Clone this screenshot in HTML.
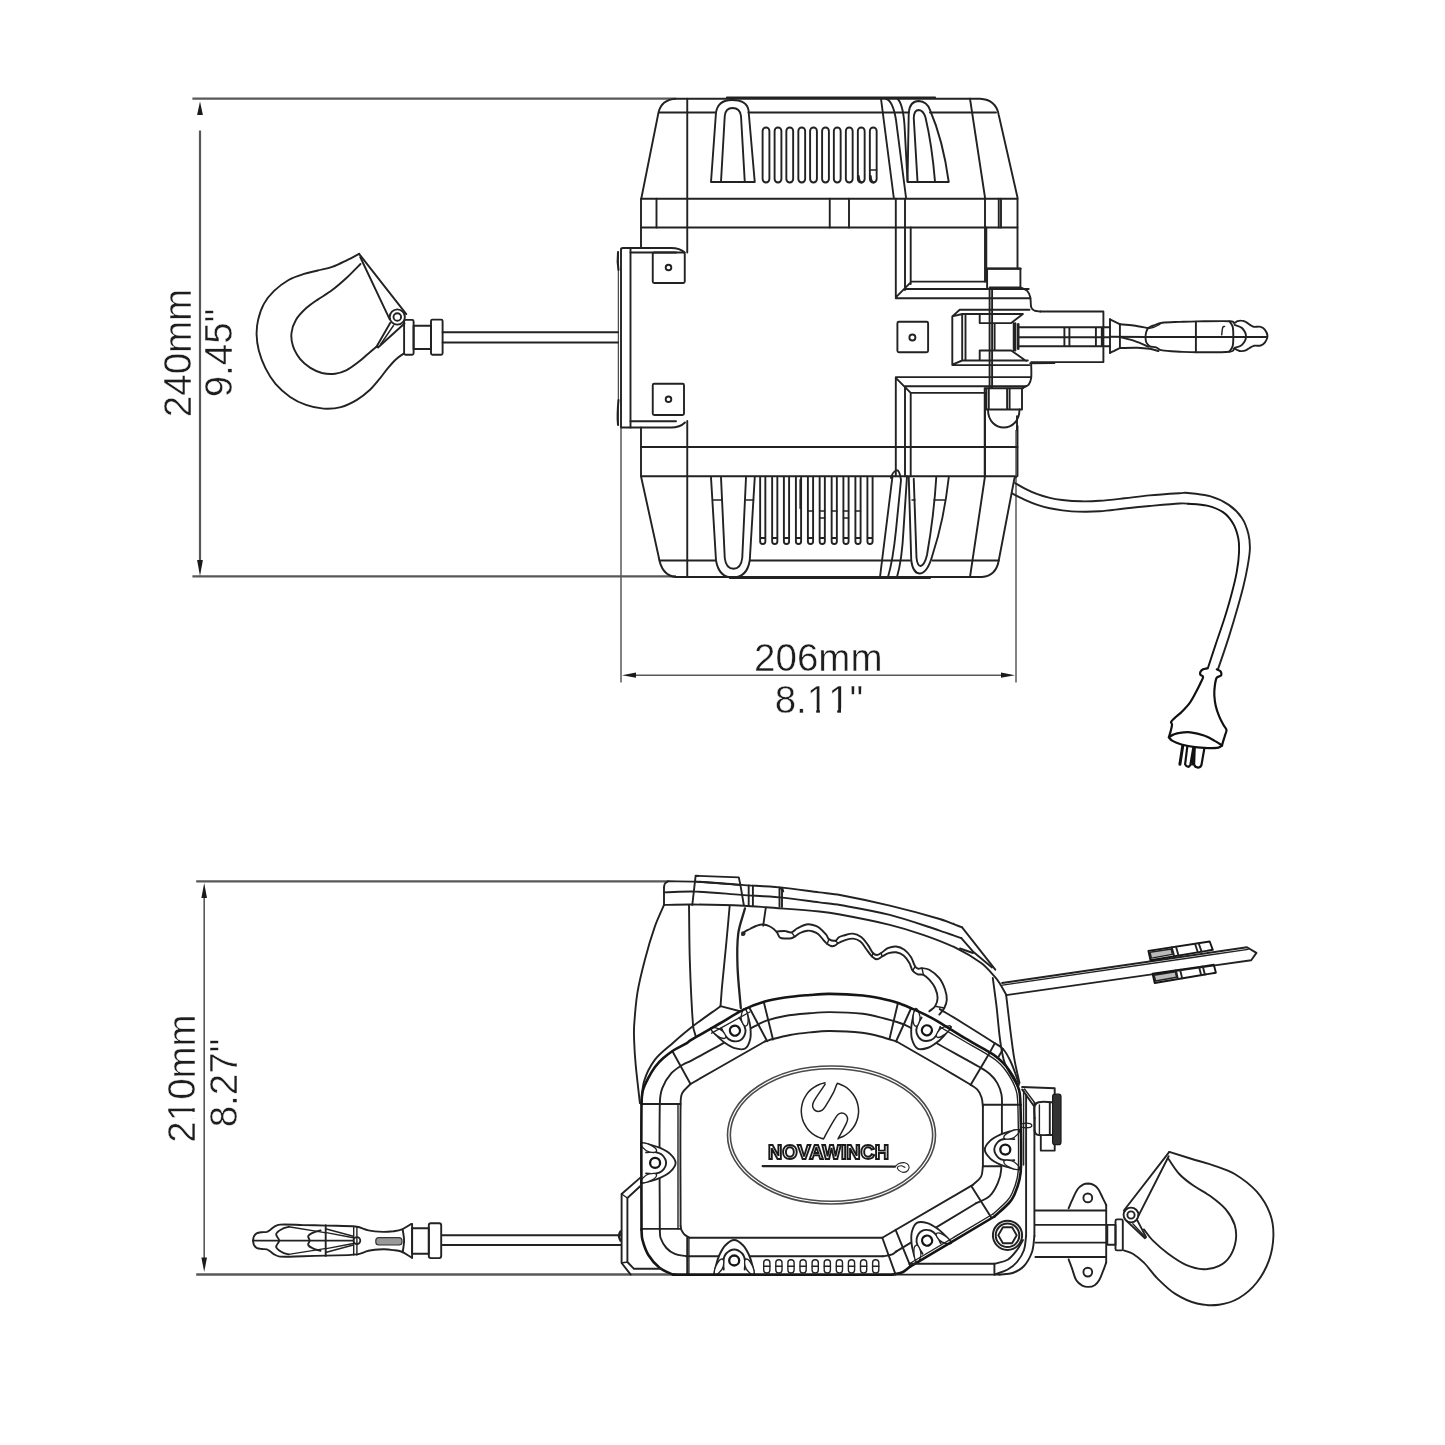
<!DOCTYPE html>
<html><head><meta charset="utf-8"><title>Winch dimensions</title>
<style>
html,body{margin:0;padding:0;background:#fff;}
body{width:1445px;height:1445px;overflow:hidden;font-family:"Liberation Sans",sans-serif;}
svg{display:block;position:absolute;left:0;top:0;}
.l{fill:none;stroke:#222;stroke-width:1.9;stroke-linecap:round;stroke-linejoin:round;}
.t{fill:none;stroke:#222;stroke-width:1.4;stroke-linecap:round;stroke-linejoin:round;}
.d{fill:none;stroke:#585858;stroke-width:2.2;}
.w{fill:#fff;stroke:#222;stroke-width:1.6;stroke-linejoin:round;}
text{font-family:"Liberation Sans",sans-serif;fill:#1c1c1c;}
#labels text{stroke:#fff;stroke-width:0.45;font-kerning:none;}
</style></head><body>
<svg width="1445" height="1445" viewBox="0 0 1445 1445">
<rect width="1445" height="1445" fill="#fff"/>
<!-- ===== DIMENSIONS ===== -->
<g id="dims" class="d">
<path d="M192.4 98.7H676"/>
<path d="M192.4 576.3H676"/>
<path d="M200 130.5V562"/>
<path d="M621 428V682.5" style="stroke-width:1.5"/>
<path d="M1016 430V682.5" style="stroke-width:1.5"/>
<path d="M630 675.2H1008" style="stroke-width:1.6"/>
<path d="M196.2 881.3H668"/>
<path d="M204.2 896V1260" style="stroke-width:1.6"/>
<path d="M196.2 1274.5H676" style="stroke-width:2.3"/>
</g>
<g id="arrows" fill="#1a1a1a" stroke="none">
<path d="M200 101.5L202.9 115H197.1Z"/>
<path d="M200 576L202.9 560H197.1Z"/>
<path d="M622 675.2L636 672.6V677.8Z"/>
<path d="M1015 675.2L1001 672.6V677.8Z"/>
<path d="M204.2 883L207 898H201.4Z"/>
<path d="M204.2 1272L207 1257.5H201.4Z"/>
</g>
<g id="labels" opacity="0.995">
<text x="818.3" y="670.5" font-size="38.5" text-anchor="middle">206mm</text>
<text x="819" y="712.5" font-size="38.5" text-anchor="middle">8.11"</text>
<text transform="translate(190.5 353) rotate(-90)" font-size="38.5" text-anchor="middle">240mm</text>
<text transform="translate(232 353) rotate(-90)" font-size="38.5" text-anchor="middle">9.45"</text>
<text transform="translate(195.4 1078.5) rotate(-90)" font-size="38.5" text-anchor="middle">210mm</text>
<text transform="translate(237.2 1083) rotate(-90)" font-size="38.5" text-anchor="middle">8.27"</text>
</g>
<g id="fix1" fill="#fff" stroke="none">
<rect x="808.5" y="708.6" width="7.7" height="5"/><rect x="819.9" y="708.6" width="7" height="5"/>
<rect x="830.5" y="708.6" width="6.7" height="5"/><rect x="841" y="708.6" width="7" height="5"/>
<rect x="190.6" y="1100.5" width="5.2" height="7.8"/><rect x="190.6" y="1111.8" width="5.2" height="6.5"/>
</g>
<!-- ===== TOP VIEW ===== -->
<g id="topview">
<!-- body outline -->
<g class="l">
<path d="M641 247.5V200L658.5 112.5Q661.5 99.5 676 98.75H980Q996 99.5 998.75 115L1017.5 197.5V268.5"/>
<path d="M641 427.5V476.25L658.5 556Q661.5 576 676 577H982Q996 576 998.75 560.5L1014.5 478L1017.5 476V426"/>
<path d="M641 198.75H1017.5M641 227.5H1017.5M641 447H1017.5M641 476.25H1015"/>
<path d="M687.25 98.75V252.5M687.25 421V577"/>
<path d="M656.5 198.75V227.5M829.75 198.75V227.5M849 198.75V227.5M998.75 198.75V227.5M1001 198.75V227.5"/>
<path d="M659 112.5H716M748.5 112.5H909M930 112.5H996"/>
<path d="M660.5 560.5H716M750 560.5H910M932.5 560.5H998.75"/>
<!-- inner right slanted -->
<path d="M970 98.75L985 197.5V281.6"/>
<path d="M985 392.9V476.25L970 577"/>
<!-- thick handle top -->
<path d="M727 97.6H935" stroke-width="2.2"/>
<path d="M730 578H930" stroke-width="2"/>
</g>
<!-- handles top -->
<g class="l">
<path d="M711 182L716 112.5Q718 100 732 100Q746.5 100 748.5 110L754.75 182Z"/>
<path d="M721 181.5L724.75 116Q725.5 108 732.5 108Q740 108 741 116L744.75 181.5"/>
<path d="M907.5 182L908.75 112.5Q910 101 918.75 101Q927 101.5 930 110Q943 140 948.75 182Z"/>
<path d="M917.5 181.5L913.75 118Q914 110 918.75 110Q923.5 110.5 925.5 117.5Q932 145 935 181.5"/>
<!-- seam lines top -->
<path d="M881 98.75L893.75 197.5"/>
<path d="M886 98.75Q893 101 896 120L906 197.5"/>
<path d="M897.5 98.75Q903 104 904.5 125L907.5 181"/>
<!-- bottom handles -->
<path d="M711 477.5L716 560.5Q719 577.5 732.5 577.5Q747 577.5 749.75 560.5L754.75 477.5"/>
<path d="M721 477.5L724.75 558Q726 568.75 733.5 568.75Q741 568.75 742.25 558L746 477.5"/>
<path d="M908.75 477.5L911.25 560.5Q913 573.5 920 573.5Q927.5 573 932.5 555Q944 520 948.75 477.5"/>
<path d="M913.75 478.75L916.5 558Q917.5 566 920.5 566Q924.5 565.5 927 555Q934 515 936.25 477.5"/>
<!-- seam bottom -->
<path d="M880 577L892.5 476.25"/>
<path d="M888 577Q893 560 896 530L901 480Q899.5 469 896 470.5Q892.5 472 891 478"/>
<path d="M897 577Q902 560 903.5 530L907 476.25"/>
</g>
<!-- vents -->
<g class="l" stroke-width="1.3">
<rect x="762.60" y="127.5" width="6.8" height="55" rx="3.4"/>
<rect x="774.60" y="127.5" width="6.8" height="55" rx="3.4"/>
<rect x="786.35" y="127.5" width="6.8" height="55" rx="3.4"/>
<rect x="798.35" y="127.5" width="6.8" height="55" rx="3.4"/>
<rect x="810.10" y="127.5" width="6.8" height="55" rx="3.4"/>
<rect x="822.10" y="127.5" width="6.8" height="55" rx="3.4"/>
<rect x="833.85" y="127.5" width="6.8" height="55" rx="3.4"/>
<rect x="845.85" y="127.5" width="6.8" height="55" rx="3.4"/>
<rect x="857.85" y="127.5" width="6.8" height="55" rx="3.4"/>
<rect x="869.85" y="127.5" width="6.8" height="55" rx="3.4"/>
<path d="M760.15 477.5V541.5Q760.15 544 762.75 544Q765.35 544 765.35 541.5V477.5M760.15 538H765.35"/>
<path d="M772.15 477.5V541.5Q772.15 544 774.75 544Q777.35 544 777.35 541.5V477.5M772.15 538H777.35"/>
<path d="M783.90 477.5V541.5Q783.90 544 786.50 544Q789.10 544 789.10 541.5V477.5M783.90 538H789.10"/>
<path d="M795.90 477.5V541.5Q795.90 544 798.50 544Q801.10 544 801.10 541.5V477.5M795.90 538H801.10"/>
<path d="M807.90 477.5V541.5Q807.90 544 810.50 544Q813.10 544 813.10 541.5V477.5M807.90 538H813.10"/>
<path d="M819.65 477.5V541.5Q819.65 544 822.25 544Q824.85 544 824.85 541.5V477.5M819.65 538H824.85"/>
<path d="M831.65 477.5V541.5Q831.65 544 834.25 544Q836.85 544 836.85 541.5V477.5M831.65 538H836.85"/>
<path d="M843.40 477.5V541.5Q843.40 544 846.00 544Q848.60 544 848.60 541.5V477.5M843.40 538H848.60"/>
<path d="M855.40 477.5V541.5Q855.40 544 858.00 544Q860.60 544 860.60 541.5V477.5M855.40 538H860.60"/>
<path d="M867.40 477.5V541.5Q867.40 544 870.00 544Q872.60 544 872.60 541.5V477.5M867.40 538H872.60"/>
</g>
<!-- XLINES -->
<path class="t" d="M807.90 511H813.10"/>
<path class="t" d="M819.65 511H824.85"/>
<path class="t" d="M831.65 511H836.85"/>
<path class="t" d="M843.40 511H848.60"/>
<path class="t" d="M855.40 511H860.60"/>
<path class="t" d="M819.65 518H824.85"/>
<path class="t" d="M843.40 518H848.60"/>
<path class="l" style="stroke-width:2.4" d="M800.6 480V508"/>
<path class="t" d="M713.3 500H721.8M746 500H753.6M912 500H915M934 500H945"/>
<path class="l" style="stroke-width:2.2" d="M858.6 176Q859 182 861.5 182.3M870.6 176Q871 182 873.5 182.3"/>
<path class="t" d="M869.9 170H876.6"/>
<!-- bracket -->
<g class="l">
<path d="M621 249.5Q621 248 623 248H671Q680 248 684.75 252.5"/>
<path d="M630.5 252.5H676"/>
<path d="M621 427.5H671Q680 427.5 685 422.5"/>
<path d="M630.5 421.25H676"/>
<path d="M621 249.5V427M630.5 248V427.5"/>
<path d="M618 252Q617 262 618.5 270" stroke-width="2"/>
<path d="M618.5 400Q617 415 618 425" stroke-width="2"/>
<path d="M618.3 252V425" stroke-width="1"/>
<rect x="652.75" y="252.5" width="32" height="30.5" rx="1.5"/>
<rect x="652.75" y="383.75" width="31.25" height="31.25" rx="1.5"/>
<circle cx="668.5" cy="267.5" r="2.8"/>
<circle cx="668.5" cy="399.25" r="2.8"/>
<!-- cable to hook -->
<path d="M442.6 332.3H618M442.6 342.5H618"/>
</g>
<!-- hook -->
<g class="l">
<path d="M359.1 253.8C357.0 254.9 351.2 258.2 346.7 260.3C342.2 262.5 337.0 265.2 332.2 266.9C327.4 268.6 322.5 269.3 317.7 270.5C312.8 271.7 308.0 272.6 303.1 274.2C298.3 275.7 293.4 277.2 288.6 280.0C283.8 282.8 278.2 286.9 274.1 290.9C269.9 294.9 266.6 299.1 263.9 303.9C261.2 308.8 259.3 314.8 258.1 319.9C256.9 325.0 256.5 329.4 256.6 334.5C256.7 339.5 257.4 344.9 258.8 350.4C260.3 356.0 262.6 362.3 265.3 367.9C268.1 373.5 271.4 379.0 275.5 383.9C279.6 388.7 285.0 393.4 290.1 397.0C295.1 400.5 300.5 403.0 306.0 404.9C311.6 406.9 317.7 408.2 323.5 408.6C329.3 408.9 335.3 408.6 340.9 407.1C346.5 405.7 352.1 402.8 356.9 399.9C361.7 397.0 366.1 393.3 370.0 389.7C373.9 386.1 377.1 381.7 380.2 378.1C383.2 374.4 385.5 371.0 388.1 367.9C390.8 364.7 393.5 361.6 396.1 359.2C398.8 356.7 402.8 354.3 404.1 353.4"/>
<path d="M360.5 264.0C358.2 266.3 351.5 273.4 346.7 277.8C342.0 282.1 337.0 286.5 332.2 290.1C327.4 293.8 322.0 296.6 317.7 299.6C313.3 302.6 309.7 304.9 306.0 308.3C302.4 311.7 298.3 315.8 295.9 319.9C293.4 324.0 292.0 328.6 291.5 333.0C291.0 337.4 291.5 341.7 293.0 346.1C294.4 350.4 297.3 355.5 300.2 359.2C303.1 362.8 306.8 365.6 310.4 367.9C314.0 370.2 317.9 372.0 322.0 373.0C326.1 373.9 331.0 374.2 335.1 373.7C339.2 373.2 342.9 372.0 346.7 370.1C350.6 368.1 354.7 364.9 358.4 362.1C362.0 359.3 365.5 355.9 368.5 353.4C371.6 350.8 375.2 347.9 376.5 346.8"/>
<path d="M359.1 253.8L406.3 314.1"/>
<path d="M360.2 257L389.6 319.2"/>
<circle cx="397.3" cy="317" r="7.6"/>
<circle cx="397.3" cy="317" r="3.8"/>
<path d="M390.3 322.8L376.5 346.8L378 347.5L404.5 323.5"/>
<path d="M393.5 325.5L380.5 344.5" class="t"/>
<rect x="404.1" y="319.9" width="9.5" height="34.9" rx="1.5"/>
<rect x="413.6" y="325.7" width="17.4" height="23.3"/>
<rect x="431" y="319.6" width="11.6" height="35.2" rx="1.5"/>
</g>

<path class="l" d="M1015.0 483.0C1016.6 483.9 1021.2 486.7 1024.9 488.6C1028.6 490.5 1033.2 492.6 1037.4 494.2C1041.6 495.8 1045.7 496.9 1049.8 497.9C1053.9 498.9 1057.1 499.4 1062.3 500.0C1067.5 500.6 1074.8 501.2 1081.0 501.3C1087.2 501.4 1092.4 501.3 1099.7 500.8C1107.0 500.3 1116.3 499.2 1124.6 498.3C1132.9 497.4 1140.4 496.2 1149.5 495.4C1158.6 494.6 1173.0 493.7 1179.4 493.3C1185.8 492.9 1183.0 492.5 1188.1 493.0C1193.2 493.5 1203.1 494.2 1209.9 496.2C1216.7 498.2 1223.5 501.3 1228.8 504.9C1234.1 508.5 1238.6 513.2 1241.9 518.0C1245.2 522.8 1247.1 528.8 1248.4 533.9C1249.7 539.0 1250.0 543.2 1249.9 548.5C1249.8 553.8 1248.8 559.6 1247.7 565.9C1246.6 572.2 1245.1 579.3 1243.4 586.3C1241.7 593.3 1239.9 599.6 1237.5 608.1C1235.1 616.6 1232.0 627.0 1228.8 637.1C1225.6 647.2 1220.0 663.4 1218.2 668.6"/>
<path class="l" d="M1012.5 493.6C1014.6 494.6 1020.8 497.9 1024.9 499.8C1029.1 501.7 1033.2 503.4 1037.4 504.8C1041.6 506.2 1045.7 507.4 1049.8 508.3C1053.9 509.2 1057.7 509.8 1062.3 510.4C1066.9 510.9 1071.0 511.5 1077.2 511.6C1083.4 511.8 1091.8 511.8 1099.7 511.3C1107.6 510.8 1116.3 509.4 1124.6 508.5C1132.9 507.6 1140.4 506.8 1149.5 506.0C1158.6 505.2 1173.0 503.9 1179.4 503.5C1185.8 503.1 1186.6 503.7 1188.1 503.7"/>
<path class="l" style="stroke:#151515;stroke-width:1.9" d="M1188.1 503.7C1191.2 504.0 1201.2 504.2 1207.0 505.6C1212.8 507.0 1218.6 509.1 1223.0 512.1C1227.4 515.1 1230.7 519.4 1233.2 523.8C1235.8 528.2 1237.3 533.5 1238.3 538.3C1239.3 543.1 1239.2 547.2 1239.0 552.8C1238.8 558.4 1238.0 564.9 1236.8 571.7C1235.6 578.5 1233.8 585.8 1231.7 593.5C1229.7 601.2 1227.2 609.7 1224.5 618.2C1221.8 626.7 1218.5 636.0 1215.7 644.4C1212.9 652.8 1209.1 664.4 1207.8 668.4"/>
<g fill="none" stroke="#111" stroke-width="2.2" stroke-linecap="round" stroke-linejoin="round">
<path d="M1206.9 668.4C1206.2 668.6 1204.1 668.8 1203.1 669.3C1202.0 669.9 1201.0 670.7 1200.6 671.6C1200.1 672.5 1200.0 673.8 1200.4 674.7C1200.8 675.6 1203.1 675.6 1203.1 677.0C1203.1 678.4 1201.6 680.7 1200.4 683.3C1199.2 685.8 1197.7 689.0 1195.9 692.3C1194.1 695.6 1192.0 699.8 1189.6 703.1C1187.2 706.4 1184.0 709.5 1181.5 712.1C1178.9 714.6 1176.0 716.7 1174.3 718.4C1172.6 720.0 1171.5 720.9 1171.1 722.0C1170.8 723.0 1172.1 723.2 1172.0 724.7C1172.0 726.2 1171.2 728.9 1170.7 731.0C1170.2 733.1 1169.2 736.2 1168.9 737.3"/>
<path d="M1216.8 669.3C1217.3 669.6 1219.0 670.1 1219.7 670.7C1220.5 671.3 1221.1 672.1 1221.3 672.9C1221.4 673.8 1221.7 674.8 1220.9 675.6C1220.1 676.5 1217.6 676.2 1216.6 677.9C1215.6 679.6 1215.2 683.1 1214.8 686.0C1214.4 688.8 1214.2 691.7 1214.3 695.0C1214.5 698.3 1214.9 702.2 1215.7 705.8C1216.5 709.4 1217.9 713.3 1219.3 716.6C1220.6 719.9 1222.6 723.3 1223.8 725.6C1225.0 727.8 1226.3 728.3 1226.5 730.1C1226.6 731.9 1225.4 733.8 1224.7 736.4C1223.9 738.9 1222.4 743.9 1222.0 745.4"/>
<path d="M1169.1 737.1C1169.8 736.7 1171.6 735.3 1173.4 734.6C1175.2 733.9 1176.8 733.1 1179.7 732.8C1182.5 732.4 1186.4 731.9 1190.5 732.3C1194.5 732.8 1199.9 734.0 1204.0 735.5C1208.0 736.9 1211.8 739.2 1214.8 740.9C1217.8 742.5 1220.8 744.6 1222.0 745.4"/>
<path d="M1168.9 737.3C1169.5 737.9 1170.4 739.7 1172.5 740.9C1174.6 742.1 1177.7 743.4 1181.5 744.5C1185.2 745.5 1190.5 746.6 1195.0 747.2C1199.5 747.8 1204.6 748.0 1208.5 748.1C1212.4 748.1 1216.1 748.1 1218.4 747.6C1220.6 747.2 1221.4 745.7 1222.0 745.4"/>
<path d="M1182.8 745.4L1179.9 764.3" stroke-width="3"/>
<path d="M1187.3 746.7L1185.1 764.3Q1186.0 766.5 1188.7 766.8Q1190.3 765.2 1190.3 765.2L1193.4 747.3"/>
<path d="M1194.7 747.6L1194.1 764.7Q1195.0 767.4 1198.1 767.7Q1201.1 767.0 1201.5 764.7L1204.4 748.1"/>
<path d="M1194.1 747.6L1192.3 764.3" stroke-width="2.4"/>
</g>
<g class="l"><path d="M895.8 198.75V297.3M905 198.75V290M910.7 227.5V284 M895.8 476.25V378M905 476.25V386.2M910.7 476.25V392.9 M910.7 281.6 L986.3 281.6 M904.9 289.0 L1028.7 289.0 M895.8 298.2 L1030.3 298.2 M895.8 297.3 L910.7 282.4 M895.8 377.1 L1031.2 377.1 M904.9 386.2 L1026.2 386.2 M910.7 392.9 L986.3 392.9 M895.8 377.9 L910.7 392.9 M986.3 227.5V281.6 M984.7 476.25V388.7 M987.1 287.4 L987.1 268.6 L1020.4 268.6 L1020.4 287.4 M989.6 287.4 L1020.4 287.4 M989.6 287.4 L989.6 387.9 M992.1 287.4 L992.1 387.9"/>
<path d="M987.1 268.6 L1020.4 268.6" stroke-width="2.4"/>
<path d="M1020.4 287.4C1021.5 287.9 1025.3 289.0 1027.0 290.7C1028.7 292.4 1029.6 294.6 1030.3 297.3C1031.0 300.1 1030.5 305.1 1031.2 307.3C1031.9 309.5 1033.0 309.9 1034.5 310.6C1036.0 311.3 1039.3 311.3 1040.3 311.5"/><path d="M1031.2 364.6C1031.2 366.8 1031.6 374.6 1031.2 377.9C1030.7 381.2 1030.1 382.9 1028.7 384.6C1027.3 386.2 1023.8 387.3 1022.9 387.9"/>
<path d="M984.7 388.2 L1022.9 388.2"/>
<path d="M952.3 364.6 L952.3 316.4 L959.7 309.8 L1029.5 309.8 M1040.3 311.5 L1103.4 311.5 L1103.4 362.1 L1031.2 362.1 M952.3 365.1 L1029.5 365.1 M952.3 364.6 L962.2 360.5 M952.3 316.4 L962.2 314.0 M962.2 314.0 L962.2 360.5 M965.5 314.0 L965.5 360.5 M962.2 314.0 L1022.9 314.0 M962.2 360.5 L1027.8 360.5 M979.7 314.0 L979.7 323.1 L1011.2 323.1 L1022.9 314.0 M979.7 360.5 L979.7 350.5 L1011.2 350.5 L1026.2 361.0 M994.6 323.1 L994.6 350.5 M1013.7 323.1 L1013.7 350.5 M1015.4 323.1 L1015.4 350.5 M1019.5 327.2 L1103.4 327.2 M1019.5 337.2 L1103.4 337.2 M1019.5 346.3 L1103.4 346.3 M1064.4 327.2 L1064.4 346.3 M1069.4 327.2 L1069.4 346.3 M1095.9 327.2 L1095.9 346.3 M1101.8 327.2 L1101.8 346.3"/>
<path d="M1018.2 324.3 L1018.2 348.8" stroke-width="2.6"/>
<path d="M1030.3 363.3 L1054.4 363.0" stroke-width="2"/>
<rect x="897.4" y="321.8" width="30.7" height="30.4" rx="1.5"/>
<circle cx="912.4" cy="337.5" r="3"/>
<path d="M986.3 388.7 L986.3 409.5 M988.8 388.7 L988.8 409.5 M1007.1 388.7 L1007.1 409.5 M1009.6 388.7 L1009.6 409.5 M1022.0 388.7 L1022.0 409.5 M986.3 409.5 L1022.0 409.5"/>
<path d="M988.0 409.5C988.0 433.5 1019.5 433.5 1019.5 409.5"/>
<path d="M1017 416.1V430"/>
<path d="M1103.4 327.2H1110M1103.4 337.2H1110M1103.4 346.3H1110"/>
</g>
<g class="l">
<path d="M1110.0 319.3C1110.6 319.6 1112.0 320.3 1113.7 321.2C1115.4 322.0 1118.9 323.8 1119.9 324.3"/>
<path d="M1110.0 352.9C1110.6 352.6 1112.0 351.9 1113.7 351.1C1115.4 350.2 1118.9 348.5 1119.9 348.0"/>
<path d="M1110.0 319.3 L1110.0 352.9 M1119.9 324.3 L1119.9 348.0"/>
<path d="M1119.9 324.3C1122.2 324.5 1129.0 324.9 1133.6 325.5C1138.3 326.2 1145.6 327.6 1148.0 328.0"/>
<path d="M1119.9 348.0C1122.8 347.9 1132.4 347.6 1137.4 347.7C1142.4 347.9 1146.3 348.3 1149.8 348.8C1153.4 349.4 1157.1 350.7 1158.5 351.1"/>
<path d="M1110.0 336.7 L1146.1 337.0"/>
<path d="M1119.9 337.0C1122.4 337.7 1130.1 339.5 1134.9 341.1C1139.7 342.7 1146.3 345.8 1148.6 346.7"/>
<path d="M1148.0 328.0C1148.9 327.6 1151.2 326.4 1153.6 325.5C1156.0 324.6 1157.9 323.3 1162.3 322.7C1166.6 322.1 1173.9 322.1 1179.7 321.9C1185.5 321.7 1188.9 321.5 1197.2 321.4C1205.5 321.3 1223.4 320.9 1229.5 321.2C1235.7 321.4 1232.7 323.0 1233.9 323.0C1235.2 323.1 1235.9 321.8 1237.0 321.4C1238.2 321.0 1239.3 320.5 1240.8 320.6C1242.2 320.6 1244.2 321.1 1245.7 321.8C1247.3 322.5 1248.8 324.1 1250.1 324.9C1251.4 325.7 1252.1 326.5 1253.8 326.8C1255.6 327.1 1258.8 326.3 1260.7 326.8C1262.6 327.3 1263.9 328.3 1265.0 329.9C1266.2 331.5 1267.5 334.0 1267.5 336.1C1267.5 338.2 1266.2 340.8 1265.0 342.4C1263.9 343.9 1262.6 344.9 1260.7 345.5C1258.8 346.0 1255.7 345.4 1253.8 345.8C1252.0 346.3 1250.8 347.2 1249.5 348.0C1248.1 348.7 1247.2 349.9 1245.7 350.4C1244.3 351.0 1242.2 351.2 1240.8 351.1C1239.3 351.0 1238.2 350.2 1237.0 349.8C1235.9 349.4 1235.2 348.3 1233.9 348.6C1232.7 348.9 1235.7 351.1 1229.5 351.7C1223.4 352.3 1205.5 352.3 1197.2 352.3C1188.9 352.3 1185.5 352.0 1179.7 351.7C1173.9 351.4 1166.2 351.2 1162.3 350.4C1158.3 349.7 1158.1 348.0 1156.1 347.3C1154.0 346.6 1151.4 347.2 1149.8 346.3C1148.2 345.5 1147.1 343.9 1146.3 342.4C1145.6 340.8 1145.5 338.8 1145.5 337.0C1145.5 335.2 1145.9 333.3 1146.3 331.8C1146.8 330.3 1147.7 328.6 1148.0 328.0"/>
<path d="M1146.1 337.0 L1266.9 337.0 M1195.9 321.8 L1195.9 352.3"/>
<path d="M1234.5 324.9C1235.8 325.4 1240.1 326.1 1242.0 328.0C1243.9 329.9 1246.0 333.6 1246.0 336.4C1246.0 339.2 1243.9 342.9 1242.0 344.8C1240.1 346.8 1235.8 347.4 1234.5 348.0"/>
<path d="M1229.5 321.4C1230.1 322.3 1232.0 324.3 1232.7 326.8C1233.3 329.3 1233.3 333.2 1233.3 336.4C1233.3 339.6 1233.3 343.6 1232.7 346.1C1232.0 348.6 1230.1 350.6 1229.5 351.4"/>
<path d="M1224.6 326.4C1224.3 326.6 1223.2 326.0 1222.7 327.4C1222.2 328.8 1221.9 333.6 1221.7 334.9" class="t"/>
<path d="M1148.0 328.4C1148.9 328.2 1151.6 328.1 1153.6 327.4C1155.5 326.7 1158.8 324.8 1159.8 324.3" class="t"/>
</g>

</g>
<!-- ===== SIDE VIEW ===== -->
<g id="sideview">
<path class="l"  d="M668.2 881.3C667.1 882.0 665.7 882.4 665.0 883.5C664.2 884.6 664.3 886.2 664.0 887.5"/>
<path class="l"  d="M664.0 887.5 L664.0 904.9"/>
<path class="l"  d="M664.0 904.9C661.0 912.1 657.5 919.1 654.9 926.4C651.1 937.3 647.8 948.5 644.9 959.7C642.0 970.7 639.2 981.7 637.4 992.9C635.6 1003.9 634.9 1015.0 634.1 1026.1C633.8 1030.7 633.9 1035.4 634.1 1040.0C634.4 1048.3 634.9 1056.6 635.7 1064.9C636.9 1077.7 638.5 1090.4 639.9 1103.1"/>
<path class="l"  d="M668.2 881.3C677.3 881.4 686.5 881.2 695.6 881.6C710.9 882.4 726.1 883.8 741.3 884.9C754.0 885.8 766.8 886.2 779.5 887.4C792.8 888.7 806.0 890.7 819.3 892.4C826.2 893.3 833.2 893.7 840.0 895.0C856.7 898.1 873.3 901.7 889.8 905.7C906.5 909.7 923.2 914.1 939.7 919.0C947.3 921.3 954.6 924.5 962.1 927.3"/>
<path class="l"  d="M664.0 892.4C674.5 892.1 685.1 891.3 695.6 891.6C710.9 892.1 726.1 893.8 741.3 894.9C754.0 895.8 766.8 896.2 779.5 897.4C792.8 898.7 806.0 900.7 819.3 902.4C826.2 903.3 833.2 903.8 840.0 905.0C856.7 908.0 873.4 910.7 889.8 914.9C906.7 919.2 923.1 925.2 939.7 930.6C946.9 933.0 954.1 935.6 961.3 938.1"/>
<path class="l" style="stroke-width:1.9" d="M664.0 904.9C673.4 904.8 682.9 904.4 692.3 904.5C709.5 904.7 726.6 905.0 743.8 905.7C751.3 906.0 758.7 906.7 766.2 907.3C783.9 908.7 801.6 909.8 819.3 911.5C826.2 912.2 833.1 913.2 840.0 914.5C856.7 917.6 873.3 920.8 889.8 924.8C901.1 927.6 912.2 931.0 923.1 934.8C934.4 938.7 945.6 942.9 956.3 948.1C965.0 952.3 973.4 957.3 981.2 963.0C986.2 966.7 990.3 971.7 994.5 976.3C996.4 978.4 998.0 980.6 999.5 983.0C1001.9 986.8 1003.9 990.7 1006.1 994.6"/>
<path class="l"  d="M1006.1 994.6C1007.8 1008.4 1009.3 1022.3 1011.1 1036.1C1012.1 1043.9 1013.0 1051.7 1014.4 1059.4C1015.8 1067.3 1017.8 1075.1 1019.5 1083.0"/>
<path class="l"  d="M962.1 927.3 L995.3 969.7"/>
<path class="l"  d="M961.3 938.1 L972.9 951.4 L992.0 967.5"/>
<path class="l"  d="M960.0 948.5 L973.0 953.0"/>
<path class="l"  d="M992.8 978.0C993.9 986.3 995.0 994.6 996.1 1002.9C998.6 1021.7 998.8 1041.0 1003.6 1059.4C1006.2 1069.2 1013.1 1077.4 1017.8 1086.4"/>
<path class="l"  d="M692.3 904.9 L695.6 875.8 L738.8 877.4 L740.4 884.9 L743.8 904.9"/>
<path class="l"  d="M695.3 881.6 L740.0 884.9"/>
<path class="l"  d="M748.7 885.5 L748.7 905.7"/>
<path class="l"  d="M752.9 885.8 L752.9 905.9"/>
<path class="l"  d="M779.5 887.4 L779.5 906.8"/>
<path class="l"  d="M782.0 887.8 L782.0 907.0"/>
<path class="t"  d="M779.5 887.4 L783.5 891.5 L782.5 887.9"/>
<path class="l"  d="M689.0 904.9C689.3 923.2 689.2 941.4 689.8 959.7C690.5 981.8 691.4 1004.0 693.1 1026.1C693.4 1029.5 694.8 1032.7 695.6 1036.0"/>
<path class="l"  d="M729.6 906.5C728.5 918.7 727.5 930.8 726.3 943.0C725.0 956.9 723.5 970.7 722.2 984.6C721.5 991.8 721.1 999.0 720.5 1006.2"/>
<path class="l" style="stroke-width:2.3" d="M745.0 908.3C742.8 916.6 739.4 924.7 738.3 933.2C736.9 944.2 737.1 955.3 737.5 966.4C738.0 980.3 739.7 994.1 740.8 1008.0"/>
<path class="l"  d="M765.7 908.3 L763.2 925.7"/>
<path class="l"  d="M720.5 1006.2 L742.9 1012.0"/>
<path class="l"  d="M720.5 1006.2C711.4 1012.8 702.0 1019.2 693.1 1026.1C686.3 1031.4 679.7 1037.0 673.2 1042.7C666.9 1048.3 659.8 1053.2 654.8 1059.9C650.0 1066.3 646.3 1073.8 644.0 1081.5C641.8 1089.0 642.3 1097.0 641.5 1104.8"/>
<path class="l"  d="M742.1 934.9C743.1 933.8 743.8 932.4 745.0 931.5C746.5 930.4 748.3 929.8 750.0 929.0C752.0 928.0 753.9 926.8 756.0 926.0C758.1 925.3 760.2 924.4 762.4 924.5C765.0 924.6 767.7 925.3 770.0 926.5C772.5 927.7 774.6 929.6 776.5 931.6C778.0 933.3 778.2 936.0 779.9 937.4C781.3 938.5 783.3 938.4 785.0 938.5C787.2 938.6 789.4 938.6 791.5 938.2C792.7 938.0 793.8 937.2 794.8 936.6C796.6 935.5 798.1 933.9 800.0 933.0C802.3 931.9 804.8 931.0 807.3 930.7C809.2 930.5 811.2 930.9 813.0 931.5C814.8 932.1 816.6 932.9 818.1 934.1C820.6 936.2 822.5 939.1 824.7 941.5C825.5 942.4 826.2 943.3 827.2 944.0C828.4 944.8 829.6 945.7 831.0 946.0C832.2 946.3 833.6 946.2 834.7 945.7C836.0 945.2 836.8 943.9 838.0 943.2C840.1 942.0 842.3 941.0 844.6 940.3C847.3 939.5 850.2 938.4 853.0 938.6C855.6 938.8 858.3 939.9 860.4 941.5C862.9 943.5 864.3 946.5 866.2 949.0C868.1 951.5 869.7 954.3 872.0 956.5C873.4 957.8 875.1 959.3 877.0 959.3C878.9 959.3 880.3 957.4 882.0 956.5C884.2 955.4 886.2 953.9 888.6 953.2C891.0 952.5 893.6 951.9 896.1 952.3C898.8 952.7 901.5 953.9 903.6 955.6C906.1 957.6 907.8 960.4 909.4 963.1C910.8 965.4 911.1 968.4 912.7 970.6C913.9 972.3 915.8 973.5 917.7 974.3C919.5 975.0 921.7 974.0 923.5 974.8C925.8 975.9 927.6 977.8 929.3 979.7C931.5 982.2 933.7 984.9 935.1 988.0C936.5 991.1 937.6 994.6 937.6 998.0C937.6 1000.9 936.6 1003.8 935.1 1006.3C933.7 1008.5 931.2 1009.6 929.3 1011.3"/>
<path class="l"  d="M776.5 931.6C779.3 931.4 782.2 930.8 785.0 931.0C787.2 931.1 789.3 932.9 791.5 932.4C793.7 931.9 795.0 929.6 797.0 928.5C800.0 926.9 803.1 925.2 806.4 924.5C808.6 924.0 810.9 924.5 813.0 925.0C815.1 925.5 817.2 926.1 818.9 927.4C821.7 929.5 824.1 932.2 826.4 934.9C827.5 936.1 827.5 938.2 828.9 939.1C830.8 940.3 833.3 941.1 835.5 940.7C836.9 940.5 837.3 938.3 838.5 937.5C839.8 936.6 841.4 936.1 843.0 935.7C846.3 934.8 849.5 933.4 852.9 933.6C855.9 933.8 858.8 935.2 861.2 937.0C864.0 939.1 865.9 942.1 867.9 944.9C869.8 947.5 870.8 950.6 872.9 953.0C873.9 954.1 875.5 955.0 877.0 955.0C878.6 955.0 879.9 953.8 881.2 953.0C883.5 951.6 885.3 949.3 887.8 948.2C890.4 947.1 893.3 946.2 896.1 946.5C899.1 946.8 902.0 948.1 904.4 949.8C907.1 951.8 909.3 954.5 911.1 957.3C912.9 960.1 913.4 963.6 915.2 966.4C915.9 967.5 917.2 968.5 918.5 968.8C919.6 969.1 920.7 968.0 921.9 968.1C924.4 968.3 927.1 968.5 929.3 969.8C933.1 972.0 936.6 974.7 939.3 978.1C942.0 981.5 943.7 985.6 945.1 989.7C946.2 992.9 946.9 996.3 946.8 999.7C946.7 1002.6 945.6 1005.4 944.3 1008.0C943.1 1010.5 941.0 1012.4 939.3 1014.6"/>
<circle class="t" cx="743.3" cy="933.6" r="1.6"/>
<path class="t"  d="M791.5 932.4 L794.8 936.6"/>
<path class="t"  d="M828.9 939.1 L827.2 944.0"/>
<path class="t"  d="M835.5 940.7 L838.0 943.2"/>
<path class="t"  d="M872.9 953.0 L872.0 956.5"/>
<path class="t"  d="M881.2 953.0 L882.0 956.5"/>
<path class="t"  d="M915.2 966.4 L912.7 970.6"/>
<path class="t"  d="M921.9 968.1 L923.5 974.8"/>
<path class="t"  d="M944.3 1008.0 L935.1 1006.3"/>
<path class="l"  d="M659.8 1229.8C659.8 1187.9 659.1 1145.9 659.8 1104.0C659.9 1098.7 660.4 1093.2 662.3 1088.2C664.4 1082.7 667.5 1077.6 671.4 1073.2C674.6 1069.5 679.0 1067.1 683.1 1064.5C685.2 1063.1 687.8 1062.6 690.0 1061.4C701.0 1055.5 711.9 1049.3 722.9 1043.3C733.5 1037.5 744.2 1031.8 754.9 1026.2C758.7 1024.2 762.4 1022.1 766.4 1020.7C772.5 1018.6 778.7 1017.1 785.0 1016.0C793.1 1014.6 801.4 1014.0 809.6 1013.3C816.3 1012.7 823.0 1012.0 829.7 1012.1C840.8 1012.2 851.9 1012.6 862.9 1013.8C868.7 1014.4 874.4 1015.9 880.0 1017.4C888.4 1019.6 897.0 1021.3 904.9 1024.9C916.5 1030.2 927.0 1037.7 938.1 1044.0C952.0 1051.9 966.1 1059.3 979.9 1067.3C983.3 1069.3 986.9 1071.3 989.8 1074.0C992.7 1076.6 995.4 1079.7 997.3 1083.1C999.3 1086.7 1000.8 1090.6 1001.5 1094.7C1002.4 1099.6 1001.9 1104.7 1001.9 1109.7C1001.8 1129.6 1002.3 1149.6 1001.2 1169.5C1001.0 1174.1 999.7 1178.6 997.9 1182.8C995.8 1187.6 993.4 1192.5 989.6 1196.1C985.9 1199.6 980.6 1200.8 976.1 1203.2"/>
<path class="l"  d="M976.1 1203.2 L896.4 1251.4"/>
<path class="l"  d="M896.4 1251.4C894.7 1252.5 893.3 1254.0 891.4 1254.7C888.7 1255.7 885.8 1255.8 883.0 1256.3"/>
<path class="l"  d="M883.0 1256.3 L686.4 1256.3"/>
<path class="l"  d="M686.4 1256.3C682.5 1255.5 678.4 1255.4 674.8 1253.9C671.6 1252.6 668.7 1250.6 666.4 1248.0C663.8 1245.1 661.9 1241.6 660.6 1238.0C659.7 1235.4 660.1 1232.5 659.8 1229.8"/>
<path class="l"  d="M680.6 1226.0C680.6 1185.3 680.1 1144.7 680.6 1104.0C680.6 1100.4 680.6 1096.5 682.2 1093.2C684.0 1089.5 687.7 1087.1 690.5 1084.0"/>
<path class="t"  d="M678.0 1104.0 L678.0 1228.9"/>
<path class="l"  d="M690.5 1084.0 L714.9 1070.0 L764.8 1041.5"/>
<path class="l"  d="M764.8 1041.5C767.5 1040.7 770.2 1039.7 773.0 1039.0C778.6 1037.5 784.3 1036.0 790.0 1035.0C796.5 1033.8 803.0 1033.1 809.6 1032.4C816.3 1031.7 823.0 1030.9 829.7 1031.0C840.5 1031.1 851.3 1031.6 862.0 1032.8C868.1 1033.5 874.1 1035.0 880.0 1036.5C885.6 1037.9 891.1 1039.8 896.6 1041.5"/>
<path class="l"  d="M896.6 1041.5 L940.0 1066.5 L970.7 1084.8"/>
<path class="l"  d="M970.7 1084.8C972.9 1086.4 975.6 1087.6 977.4 1089.7C979.3 1091.8 980.6 1094.5 981.5 1097.2C982.5 1100.1 982.4 1103.3 982.9 1106.4"/>
<path class="l"  d="M982.9 1106.4 L982.9 1166.2"/>
<path class="l"  d="M982.9 1166.2C982.3 1169.7 982.8 1173.5 981.1 1176.6C979.2 1180.0 975.6 1182.1 972.8 1184.9"/>
<path class="l"  d="M972.8 1184.9 L882.3 1237.7 L689.7 1237.7"/>
<path class="l"  d="M689.7 1237.7C688.0 1236.7 686.1 1236.1 684.7 1234.8C683.3 1233.4 682.2 1231.6 681.4 1229.8C680.9 1228.6 680.9 1227.3 680.6 1226.0"/>
<path class="l"  d="M641.5 1104.0 L680.6 1104.0"/>
<path class="l"  d="M672.3 1051.0 L690.5 1084.0"/>
<path class="l"  d="M763.9 1002.5 L773.0 1039.5"/>
<path class="l"  d="M749.8 1008.5 L767.2 1041.2"/>
<path class="l"  d="M897.8 1003.5 L889.5 1039.0"/>
<path class="l"  d="M911.0 1008.5 L896.0 1041.5"/>
<path class="l"  d="M989.8 1052.4 L970.7 1084.8"/>
<path class="l"  d="M982.9 1104.7 L1021.1 1104.7"/>
<path class="l"  d="M982.9 1166.2 L1001.2 1166.2"/>
<path class="l"  d="M971.3 1186.1 L991.1 1217.3"/>
<path class="l"  d="M882.3 1237.7 L895.6 1274.6"/>
<path class="l"  d="M895.6 1229.8 L910.5 1266.3"/>
<path class="l"  d="M641.5 1228.9 L680.6 1228.9"/>
<path class="l"  d="M687.2 1237.7 L687.2 1274.6"/>
<path class="t"  d="M688.9 1237.7 L688.9 1274.6"/>
<g transform="translate(734.9 1030.7) rotate(150)"><path class="l" style="fill:#fff" d="M-20.0 14.0C-19.5 11.3 -19.2 8.6 -18.5 6.0C-17.5 2.3 -16.6 -1.5 -15.0 -5.0C-13.4 -8.5 -11.7 -12.2 -9.0 -15.0C-6.6 -17.5 -3.5 -20.5 0.0 -20.5C3.5 -20.5 6.6 -17.5 9.0 -15.0C11.7 -12.2 13.4 -8.5 15.0 -5.0C16.6 -1.5 17.5 2.3 18.5 6.0C19.2 8.6 19.5 11.3 20.0 14.0"/><path class="l" d="M-10.5 9.0C-10.6 6.0 -11.3 3.0 -10.8 0.0C-10.4 -2.5 -9.8 -5.2 -8.0 -7.0C-5.9 -9.1 -3.0 -11.0 0.0 -11.0C3.0 -11.0 5.9 -9.1 8.0 -7.0C9.8 -5.2 10.4 -2.5 10.8 0.0C11.3 3.0 10.6 6.0 10.5 9.0"/><path class="w" style="stroke-width:1.3" d="M-19.5 14.0C-20.7 11.2 -19.3 7.7 -18.0 5.0C-16.7 2.3 -14.9 -1.9 -12.0 -1.5C-9.5 -1.1 -10.5 3.5 -11.0 6.0C-11.5 8.3 -13.2 10.4 -15.0 12.0C-16.2 13.1 -18.9 15.5 -19.5 14.0Z"/><path class="w" style="stroke-width:1.3" d="M19.5 14.0C20.7 11.2 19.3 7.7 18.0 5.0C16.7 2.3 14.9 -1.9 12.0 -1.5C9.5 -1.1 10.5 3.5 11.0 6.0C11.5 8.3 13.2 10.4 15.0 12.0C16.2 13.1 18.9 15.5 19.5 14.0Z"/><circle cx="0" cy="0" r="5" fill="#fff" stroke="#151515" stroke-width="2.3"/></g>
<g transform="translate(926.9 1030.3) rotate(-153)"><path class="l" style="fill:#fff" d="M-20.0 14.0C-19.5 11.3 -19.2 8.6 -18.5 6.0C-17.5 2.3 -16.6 -1.5 -15.0 -5.0C-13.4 -8.5 -11.7 -12.2 -9.0 -15.0C-6.6 -17.5 -3.5 -20.5 0.0 -20.5C3.5 -20.5 6.6 -17.5 9.0 -15.0C11.7 -12.2 13.4 -8.5 15.0 -5.0C16.6 -1.5 17.5 2.3 18.5 6.0C19.2 8.6 19.5 11.3 20.0 14.0"/><path class="l" d="M-10.5 9.0C-10.6 6.0 -11.3 3.0 -10.8 0.0C-10.4 -2.5 -9.8 -5.2 -8.0 -7.0C-5.9 -9.1 -3.0 -11.0 0.0 -11.0C3.0 -11.0 5.9 -9.1 8.0 -7.0C9.8 -5.2 10.4 -2.5 10.8 0.0C11.3 3.0 10.6 6.0 10.5 9.0"/><path class="w" style="stroke-width:1.3" d="M-19.5 14.0C-20.7 11.2 -19.3 7.7 -18.0 5.0C-16.7 2.3 -14.9 -1.9 -12.0 -1.5C-9.5 -1.1 -10.5 3.5 -11.0 6.0C-11.5 8.3 -13.2 10.4 -15.0 12.0C-16.2 13.1 -18.9 15.5 -19.5 14.0Z"/><path class="w" style="stroke-width:1.3" d="M19.5 14.0C20.7 11.2 19.3 7.7 18.0 5.0C16.7 2.3 14.9 -1.9 12.0 -1.5C9.5 -1.1 10.5 3.5 11.0 6.0C11.5 8.3 13.2 10.4 15.0 12.0C16.2 13.1 18.9 15.5 19.5 14.0Z"/><circle cx="0" cy="0" r="5" fill="#fff" stroke="#151515" stroke-width="2.3"/></g>
<g transform="translate(655.1 1162.9) rotate(90)"><path class="l" style="fill:#fff" d="M-20.0 14.0C-19.5 11.3 -19.2 8.6 -18.5 6.0C-17.5 2.3 -16.6 -1.5 -15.0 -5.0C-13.4 -8.5 -11.7 -12.2 -9.0 -15.0C-6.6 -17.5 -3.5 -20.5 0.0 -20.5C3.5 -20.5 6.6 -17.5 9.0 -15.0C11.7 -12.2 13.4 -8.5 15.0 -5.0C16.6 -1.5 17.5 2.3 18.5 6.0C19.2 8.6 19.5 11.3 20.0 14.0"/><path class="l" d="M-10.5 9.0C-10.6 6.0 -11.3 3.0 -10.8 0.0C-10.4 -2.5 -9.8 -5.2 -8.0 -7.0C-5.9 -9.1 -3.0 -11.0 0.0 -11.0C3.0 -11.0 5.9 -9.1 8.0 -7.0C9.8 -5.2 10.4 -2.5 10.8 0.0C11.3 3.0 10.6 6.0 10.5 9.0"/><path class="w" style="stroke-width:1.3" d="M-19.5 14.0C-20.7 11.2 -19.3 7.7 -18.0 5.0C-16.7 2.3 -14.9 -1.9 -12.0 -1.5C-9.5 -1.1 -10.5 3.5 -11.0 6.0C-11.5 8.3 -13.2 10.4 -15.0 12.0C-16.2 13.1 -18.9 15.5 -19.5 14.0Z"/><path class="w" style="stroke-width:1.3" d="M19.5 14.0C20.7 11.2 19.3 7.7 18.0 5.0C16.7 2.3 14.9 -1.9 12.0 -1.5C9.5 -1.1 10.5 3.5 11.0 6.0C11.5 8.3 13.2 10.4 15.0 12.0C16.2 13.1 18.9 15.5 19.5 14.0Z"/><circle cx="0" cy="0" r="5" fill="#fff" stroke="#151515" stroke-width="2.3"/></g>
<g transform="translate(1005.3 1149.6) rotate(-90)"><path class="l" style="fill:#fff" d="M-20.0 14.0C-19.5 11.3 -19.2 8.6 -18.5 6.0C-17.5 2.3 -16.6 -1.5 -15.0 -5.0C-13.4 -8.5 -11.7 -12.2 -9.0 -15.0C-6.6 -17.5 -3.5 -20.5 0.0 -20.5C3.5 -20.5 6.6 -17.5 9.0 -15.0C11.7 -12.2 13.4 -8.5 15.0 -5.0C16.6 -1.5 17.5 2.3 18.5 6.0C19.2 8.6 19.5 11.3 20.0 14.0"/><path class="l" d="M-10.5 9.0C-10.6 6.0 -11.3 3.0 -10.8 0.0C-10.4 -2.5 -9.8 -5.2 -8.0 -7.0C-5.9 -9.1 -3.0 -11.0 0.0 -11.0C3.0 -11.0 5.9 -9.1 8.0 -7.0C9.8 -5.2 10.4 -2.5 10.8 0.0C11.3 3.0 10.6 6.0 10.5 9.0"/><path class="w" style="stroke-width:1.3" d="M-19.5 14.0C-20.7 11.2 -19.3 7.7 -18.0 5.0C-16.7 2.3 -14.9 -1.9 -12.0 -1.5C-9.5 -1.1 -10.5 3.5 -11.0 6.0C-11.5 8.3 -13.2 10.4 -15.0 12.0C-16.2 13.1 -18.9 15.5 -19.5 14.0Z"/><path class="w" style="stroke-width:1.3" d="M19.5 14.0C20.7 11.2 19.3 7.7 18.0 5.0C16.7 2.3 14.9 -1.9 12.0 -1.5C9.5 -1.1 10.5 3.5 11.0 6.0C11.5 8.3 13.2 10.4 15.0 12.0C16.2 13.1 18.9 15.5 19.5 14.0Z"/><circle cx="0" cy="0" r="5" fill="#fff" stroke="#151515" stroke-width="2.3"/></g>
<g transform="translate(734.2 1260.5) rotate(0)"><path class="l" style="fill:#fff" d="M-20.0 14.0C-19.5 11.3 -19.2 8.6 -18.5 6.0C-17.5 2.3 -16.6 -1.5 -15.0 -5.0C-13.4 -8.5 -11.7 -12.2 -9.0 -15.0C-6.6 -17.5 -3.5 -20.5 0.0 -20.5C3.5 -20.5 6.6 -17.5 9.0 -15.0C11.7 -12.2 13.4 -8.5 15.0 -5.0C16.6 -1.5 17.5 2.3 18.5 6.0C19.2 8.6 19.5 11.3 20.0 14.0"/><path class="l" d="M-10.5 9.0C-10.6 6.0 -11.3 3.0 -10.8 0.0C-10.4 -2.5 -9.8 -5.2 -8.0 -7.0C-5.9 -9.1 -3.0 -11.0 0.0 -11.0C3.0 -11.0 5.9 -9.1 8.0 -7.0C9.8 -5.2 10.4 -2.5 10.8 0.0C11.3 3.0 10.6 6.0 10.5 9.0"/><path class="w" style="stroke-width:1.3" d="M-19.5 14.0C-20.7 11.2 -19.3 7.7 -18.0 5.0C-16.7 2.3 -14.9 -1.9 -12.0 -1.5C-9.5 -1.1 -10.5 3.5 -11.0 6.0C-11.5 8.3 -13.2 10.4 -15.0 12.0C-16.2 13.1 -18.9 15.5 -19.5 14.0Z"/><path class="w" style="stroke-width:1.3" d="M19.5 14.0C20.7 11.2 19.3 7.7 18.0 5.0C16.7 2.3 14.9 -1.9 12.0 -1.5C9.5 -1.1 10.5 3.5 11.0 6.0C11.5 8.3 13.2 10.4 15.0 12.0C16.2 13.1 18.9 15.5 19.5 14.0Z"/><circle cx="0" cy="0" r="5" fill="#fff" stroke="#151515" stroke-width="2.3"/></g>
<g transform="translate(927.1 1240.6) rotate(-30)"><path class="l" style="fill:#fff" d="M-20.0 14.0C-19.5 11.3 -19.2 8.6 -18.5 6.0C-17.5 2.3 -16.6 -1.5 -15.0 -5.0C-13.4 -8.5 -11.7 -12.2 -9.0 -15.0C-6.6 -17.5 -3.5 -20.5 0.0 -20.5C3.5 -20.5 6.6 -17.5 9.0 -15.0C11.7 -12.2 13.4 -8.5 15.0 -5.0C16.6 -1.5 17.5 2.3 18.5 6.0C19.2 8.6 19.5 11.3 20.0 14.0"/><path class="l" d="M-10.5 9.0C-10.6 6.0 -11.3 3.0 -10.8 0.0C-10.4 -2.5 -9.8 -5.2 -8.0 -7.0C-5.9 -9.1 -3.0 -11.0 0.0 -11.0C3.0 -11.0 5.9 -9.1 8.0 -7.0C9.8 -5.2 10.4 -2.5 10.8 0.0C11.3 3.0 10.6 6.0 10.5 9.0"/><path class="w" style="stroke-width:1.3" d="M-19.5 14.0C-20.7 11.2 -19.3 7.7 -18.0 5.0C-16.7 2.3 -14.9 -1.9 -12.0 -1.5C-9.5 -1.1 -10.5 3.5 -11.0 6.0C-11.5 8.3 -13.2 10.4 -15.0 12.0C-16.2 13.1 -18.9 15.5 -19.5 14.0Z"/><path class="w" style="stroke-width:1.3" d="M19.5 14.0C20.7 11.2 19.3 7.7 18.0 5.0C16.7 2.3 14.9 -1.9 12.0 -1.5C9.5 -1.1 10.5 3.5 11.0 6.0C11.5 8.3 13.2 10.4 15.0 12.0C16.2 13.1 18.9 15.5 19.5 14.0Z"/><circle cx="0" cy="0" r="5" fill="#fff" stroke="#151515" stroke-width="2.3"/></g>
<path class="l" style="stroke-width:2.6;stroke:#151515" d="M641.5 1229.8C641.5 1187.9 641.1 1145.9 641.5 1104.0C641.6 1099.3 641.8 1094.5 643.0 1090.0C644.1 1085.8 646.2 1082.0 648.2 1078.2C650.2 1074.3 652.4 1070.5 655.0 1067.0C657.4 1063.8 660.1 1060.9 663.1 1058.3C666.5 1055.3 670.2 1052.5 674.0 1050.0C678.0 1047.5 682.3 1045.7 686.4 1043.3C687.7 1042.6 688.7 1041.5 690.0 1040.7C699.8 1034.9 709.8 1029.2 719.7 1023.5C727.5 1019.0 735.1 1013.9 743.2 1009.9C750.1 1006.5 757.4 1003.8 764.8 1001.6C771.4 999.6 778.2 998.5 785.0 997.5C793.2 996.3 801.4 995.7 809.6 995.0C816.3 994.5 823.0 993.8 829.7 993.9C840.8 994.0 851.9 994.5 862.9 995.5C868.7 996.0 874.3 997.1 880.0 998.3C885.6 999.5 891.2 1000.7 896.6 1002.5C902.3 1004.3 907.7 1006.8 913.2 1009.1C917.4 1010.9 921.6 1012.8 925.7 1014.9C929.9 1017.0 934.1 1019.2 938.1 1021.6C947.1 1027.0 955.9 1032.8 964.9 1038.2C973.1 1043.1 981.6 1047.5 989.8 1052.4C992.7 1054.1 995.5 1056.0 998.1 1058.2C1001.1 1060.7 1003.9 1063.5 1006.4 1066.5C1008.9 1069.6 1011.1 1073.0 1013.1 1076.4C1014.7 1079.1 1016.1 1081.9 1017.2 1084.8C1018.3 1087.5 1019.3 1090.2 1019.7 1093.1C1020.4 1098.6 1020.5 1104.2 1020.6 1109.7C1021.0 1128.0 1021.4 1146.2 1021.1 1164.5C1021.0 1169.5 1020.6 1174.6 1019.5 1179.5C1018.4 1184.6 1016.6 1189.6 1014.5 1194.4C1013.1 1197.5 1011.3 1200.5 1009.0 1203.0C1004.5 1207.9 999.3 1212.0 994.4 1216.5"/>
<path class="l" style="stroke-width:2.6;stroke:#151515" d="M994.4 1216.5 L910.5 1266.3"/>
<path class="l" style="stroke-width:2.6;stroke:#151515" d="M910.5 1266.3C908.0 1268.2 905.8 1270.6 903.0 1272.0C899.9 1273.5 896.4 1273.7 893.1 1274.6"/>
<path class="l" style="stroke-width:2.6;stroke:#151515" d="M893.1 1274.6 L673.0 1274.6"/>
<path class="l" style="stroke-width:2.6;stroke:#151515" d="M673.0 1274.6C668.6 1272.4 663.6 1271.1 659.8 1268.0C655.2 1264.3 651.3 1259.7 648.2 1254.7C645.4 1250.1 643.8 1244.9 642.4 1239.7C641.5 1236.5 641.8 1233.1 641.5 1229.8"/>
<path class="t"  d="M711.6 1033.2L749.8 1012.0"/>
<path class="t"  d="M940.0 1027.0C948.0 1031.7 956.0 1036.4 964.0 1041.0C972.0 1045.6 980.1 1050.0 988.0 1054.8C990.8 1056.5 993.5 1058.2 996.0 1060.3C998.9 1062.7 1001.6 1065.4 1004.0 1068.3C1006.4 1071.3 1008.5 1074.5 1010.5 1077.8C1012.1 1080.4 1013.5 1083.2 1014.6 1086.0C1015.6 1088.6 1016.6 1091.2 1017.0 1094.0C1017.7 1099.2 1017.9 1104.5 1018.0 1109.7C1018.4 1128.0 1018.8 1146.2 1018.5 1164.5C1018.4 1169.4 1018.1 1174.3 1017.0 1179.0C1015.9 1184.0 1014.1 1188.8 1012.0 1193.5C1010.8 1196.2 1009.0 1198.8 1007.0 1201.0C1002.7 1205.7 997.7 1209.7 993.0 1214.0"/>
<path class="l"  d="M939.8 1009.1C947.6 1013.8 955.4 1018.4 963.1 1023.2C973.7 1029.8 984.3 1036.4 994.8 1043.2C997.6 1045.0 1000.9 1046.4 1003.1 1049.0C1006.3 1052.7 1008.5 1057.1 1010.6 1061.5C1012.9 1066.3 1014.6 1071.4 1016.4 1076.4C1017.4 1079.2 1018.1 1082.0 1018.9 1084.8"/>
<path class="l"  d="M994.8 1043.2 L989.8 1052.4"/>
<path class="l"  d="M1003.1 1049.0 L998.1 1057.5"/>
<path class="t"  d="M993.0 1214.0 L909.0 1264.0"/>
<ellipse cx="831.5" cy="1135" rx="104" ry="69" fill="none" stroke="#4a4a4a" stroke-width="1.6"/>
<ellipse cx="831.5" cy="1135" rx="101.2" ry="66.2" fill="none" stroke="#4a4a4a" stroke-width="1.6"/>
<path class="t" style="stroke-width:1.5" d="M825.0 1082.8C823.0 1083.4 821.1 1083.7 819.2 1084.5C817.4 1085.2 815.6 1086.2 813.9 1087.3C812.3 1088.4 810.7 1089.7 809.3 1091.1C808.0 1092.6 806.7 1094.1 805.7 1095.8C804.6 1097.5 803.7 1099.3 803.0 1101.2C802.3 1103.1 801.9 1105.0 801.6 1107.0C801.3 1109.0 801.2 1111.0 801.4 1113.0C801.5 1115.0 801.9 1117.0 802.4 1118.9C803.0 1120.8 803.7 1122.7 804.7 1124.4C805.6 1126.2 806.7 1127.9 808.0 1129.4C809.3 1130.9 810.7 1132.3 812.3 1133.6C813.9 1134.8 815.6 1135.9 817.4 1136.7C819.2 1137.6 821.1 1138.1 823.0 1138.8C823.2 1138.8 823.4 1139.0 823.5 1138.9C824.7 1137.0 825.5 1135.0 826.6 1133.1C829.3 1128.2 832.0 1123.4 835.0 1118.6C835.8 1117.2 836.7 1115.6 838.0 1114.5C839.1 1113.6 840.4 1113.0 841.8 1113.0C843.2 1113.0 844.6 1113.6 845.6 1114.5C846.7 1115.6 847.5 1117.1 847.6 1118.6C847.7 1120.5 846.9 1122.3 846.1 1123.9C843.6 1129.1 840.6 1133.8 838.0 1138.9C837.8 1139.2 838.5 1138.4 838.8 1138.2C840.6 1137.3 842.5 1136.8 844.2 1135.8C846.0 1134.8 847.6 1133.6 849.1 1132.3C850.6 1130.9 851.9 1129.4 853.1 1127.8C854.3 1126.2 855.3 1124.5 856.1 1122.6C856.9 1120.8 857.5 1118.9 857.9 1117.0C858.3 1115.0 858.6 1113.0 858.6 1111.0C858.6 1109.0 858.3 1107.0 857.9 1105.1C857.5 1103.1 856.9 1101.2 856.1 1099.4C855.3 1097.5 854.3 1095.8 853.1 1094.2C851.9 1092.6 850.6 1091.1 849.1 1089.7C847.6 1088.4 846.0 1087.2 844.2 1086.2C842.5 1085.2 840.6 1084.5 838.8 1083.8C838.3 1083.6 837.6 1082.9 837.3 1083.4C835.6 1086.3 835.0 1089.7 833.4 1092.7C831.0 1097.4 828.2 1102.0 825.4 1106.4C824.5 1107.8 823.6 1109.3 822.3 1110.2C821.1 1111.1 819.6 1111.5 818.2 1111.5C816.8 1111.4 815.4 1110.9 814.4 1109.9C813.3 1108.8 812.6 1107.2 812.6 1105.7C812.5 1104.0 813.2 1102.3 814.1 1100.8C817.4 1095.1 821.4 1089.8 825.1 1084.4"/>
<g opacity="0.995"><text x="828.5" y="1159.4" font-size="19.5" font-weight="bold" text-anchor="middle" textLength="121" lengthAdjust="spacingAndGlyphs" style="fill:#fff;stroke:#1a1a1a;stroke-width:1.9">NOVAWINCH</text></g>
<path class="l" style="stroke-width:2.1;stroke:#222" d="M762.6 1166.1 L895.1 1166.6"/>
<path class="t" style="stroke-width:1.1" d="M895.1 1166.6C896.4 1165.6 897.4 1164.1 898.9 1163.5C900.8 1162.8 903.0 1162.3 905.0 1162.8C906.6 1163.1 908.2 1164.3 908.8 1165.8C909.4 1167.2 909.0 1169.2 908.0 1170.4C907.0 1171.7 905.1 1172.4 903.5 1172.4C901.8 1172.4 900.2 1171.4 898.9 1170.4C898.0 1169.7 896.9 1168.4 897.4 1167.3C898.0 1166.1 899.8 1165.8 901.2 1165.8C902.5 1165.8 903.7 1166.8 905.0 1167.3"/>
<rect class="t" x="763.7" y="1259.7" width="6.2" height="13.3" rx="3"/>
<path class="t" d="M763.7 1266.3H769.9"/>
<rect class="t" x="775.8" y="1259.7" width="6.2" height="13.3" rx="3"/>
<path class="t" d="M775.8 1266.3H782.0"/>
<rect class="t" x="787.9" y="1259.7" width="6.2" height="13.3" rx="3"/>
<path class="t" d="M787.9 1266.3H794.1"/>
<rect class="t" x="800.0" y="1259.7" width="6.2" height="13.3" rx="3"/>
<path class="t" d="M800.0 1266.3H806.2"/>
<rect class="t" x="812.1" y="1259.7" width="6.2" height="13.3" rx="3"/>
<path class="t" d="M812.1 1266.3H818.3"/>
<rect class="t" x="824.2" y="1259.7" width="6.2" height="13.3" rx="3"/>
<path class="t" d="M824.2 1266.3H830.4"/>
<rect class="t" x="836.3" y="1259.7" width="6.2" height="13.3" rx="3"/>
<path class="t" d="M836.3 1266.3H842.5"/>
<rect class="t" x="848.4" y="1259.7" width="6.2" height="13.3" rx="3"/>
<path class="t" d="M848.4 1266.3H854.6"/>
<rect class="t" x="860.5" y="1259.7" width="6.2" height="13.3" rx="3"/>
<path class="t" d="M860.5 1266.3H866.7"/>
<rect class="t" x="872.6" y="1259.7" width="6.2" height="13.3" rx="3"/>
<path class="t" d="M872.6 1266.3H878.8"/>
<path class="l"  d="M641.5 1176.6 L621.6 1194.0 L621.6 1263.0 L630.7 1274.6"/>
<path class="l"  d="M641.5 1185.0 L627.4 1198.0 L627.4 1262.0 L634.0 1268.8 L661.5 1268.8"/>
<path class="t"  d="M621.6 1194.0 L627.4 1198.0"/>
<path class="t"  d="M621.6 1263.0 L627.4 1262.0"/>
<path class="l"  d="M442.6 1235.2 L620.8 1235.2"/>
<path class="l"  d="M442.6 1245.0 L620.8 1245.0"/>
<path d="M620.5 1231.5Q617.5 1236 620.5 1240.5" class="l" style="stroke-width:2.4"/>
<path class="l"  d="M253.0 1240.6C253.3 1239.2 253.3 1237.6 254.0 1236.2C254.6 1235.1 255.5 1233.9 256.6 1233.3C258.2 1232.5 260.0 1232.4 261.7 1232.2C263.4 1231.9 265.2 1232.3 266.8 1231.9C268.2 1231.5 269.3 1230.5 270.4 1229.7C271.7 1228.8 272.7 1227.5 274.1 1226.8C275.9 1225.8 277.8 1224.7 279.9 1224.6C287.6 1224.2 295.4 1224.9 303.1 1225.1C310.9 1225.2 318.6 1225.4 326.4 1225.6C336.6 1226.0 346.8 1225.6 356.9 1226.8C360.9 1227.3 364.5 1229.7 368.5 1230.4C373.3 1231.4 378.2 1231.7 383.1 1231.9C386.5 1232.0 389.9 1231.6 393.2 1231.2C395.9 1230.8 398.7 1230.7 401.2 1229.7C404.9 1228.3 408.0 1225.8 411.4 1223.9"/>
<path class="l"  d="M253.0 1240.6C253.3 1242.1 253.3 1243.6 254.0 1245.0C254.6 1246.1 255.5 1247.3 256.6 1247.9C258.2 1248.7 260.0 1248.8 261.7 1249.0C263.4 1249.3 265.2 1248.9 266.8 1249.3C268.2 1249.7 269.3 1250.7 270.4 1251.5C271.7 1252.4 272.7 1253.7 274.1 1254.4C275.9 1255.4 277.8 1256.5 279.9 1256.6C287.6 1257.1 295.4 1256.3 303.1 1256.2C310.9 1256.0 318.6 1255.8 326.4 1255.6C336.6 1255.2 346.8 1255.6 356.9 1254.4C360.9 1254.0 364.5 1251.6 368.5 1250.8C373.3 1249.8 378.2 1249.5 383.1 1249.3C386.5 1249.2 389.9 1249.6 393.2 1250.1C395.9 1250.4 398.7 1250.5 401.2 1251.5C404.9 1253.0 408.0 1255.4 411.4 1257.3"/>
<path class="l"  d="M412.1 1223.9 L412.1 1258.0"/>
<path class="l"  d="M402.7 1229.7C403.2 1233.3 404.1 1236.9 404.1 1240.6C404.1 1244.5 403.2 1248.4 402.7 1252.2"/>
<path class="l"  d="M253.7 1240.6 L353.3 1240.6"/>
<path class="l"  d="M325.7 1225.3 L325.7 1255.9"/>
<path class="t"  d="M353.7 1226.8 L353.7 1255.1"/>
<path class="t"  d="M356.9 1226.8 L356.9 1255.1"/>
<path class="l"  d="M288.6 1226.8C286.4 1227.5 284.0 1227.8 282.1 1229.0C279.8 1230.3 276.9 1231.6 276.2 1234.1C275.7 1236.4 279.2 1238.2 279.2 1240.6C279.2 1243.0 275.7 1244.8 276.2 1247.1C276.9 1249.6 279.8 1250.9 282.1 1252.2C284.0 1253.4 286.4 1253.7 288.6 1254.4"/>
<path class="l"  d="M320.6 1230.4C318.1 1231.2 315.6 1231.5 313.3 1232.6C311.4 1233.5 309.1 1234.3 308.2 1236.2C307.6 1237.6 309.7 1239.1 309.7 1240.6C309.7 1242.1 307.6 1243.6 308.2 1245.0C309.1 1246.9 311.4 1247.7 313.3 1248.6C315.6 1249.7 318.1 1250.1 320.6 1250.8"/>
<path class="t"  d="M288.6 1226.8 L324.9 1232.6"/>
<path class="t"  d="M288.6 1254.4 L324.9 1248.6"/>
<path class="t"  d="M326.4 1232.6 L353.3 1237.7"/>
<path class="t"  d="M326.4 1248.6 L353.3 1243.5"/>
<path class="t"  d="M326.4 1229.0 L353.3 1236.2"/>
<path class="t"  d="M326.4 1252.2 L353.3 1245.0"/>
<circle cx="356.9" cy="1240.6" r="3.4" class="l" style="stroke-width:1.8"/>
<rect x="375.8" y="1237.7" width="26.2" height="7.3" rx="3" fill="#999" stroke="#333" stroke-width="1.2"/>
<rect class="l" x="412.1" y="1228.3" width="16.7" height="25.4"/>
<rect class="l" x="428.8" y="1223.2" width="12.4" height="34.9" rx="2"/>
<path class="l"  d="M1169.3 1151.9C1176.3 1154.1 1183.3 1156.3 1190.4 1158.5C1197.7 1160.8 1205.2 1162.6 1212.5 1165.1C1220.0 1167.8 1227.8 1169.9 1234.7 1174.0C1242.8 1178.9 1250.5 1184.7 1256.8 1191.7C1262.5 1198.2 1267.1 1205.8 1270.1 1213.9C1272.7 1220.9 1273.6 1228.5 1273.4 1236.0C1273.2 1244.3 1271.7 1252.6 1269.0 1260.4C1266.1 1268.3 1262.0 1275.9 1256.8 1282.5C1251.9 1288.7 1245.8 1294.0 1239.1 1298.0C1233.0 1301.6 1226.1 1303.7 1219.1 1304.7C1211.8 1305.6 1204.2 1305.3 1197.0 1303.5C1189.2 1301.6 1181.7 1297.9 1174.9 1293.6C1168.3 1289.4 1162.7 1283.6 1157.1 1278.1C1152.3 1273.3 1148.7 1267.4 1143.9 1262.6C1140.5 1259.2 1136.8 1256.2 1132.8 1253.7C1130.1 1252.1 1126.9 1251.5 1123.9 1250.4"/>
<path class="l"  d="M1168.2 1158.5C1171.9 1163.7 1175.0 1169.3 1179.3 1174.0C1183.2 1178.3 1187.9 1181.7 1192.6 1185.1C1198.2 1189.1 1204.7 1192.0 1210.3 1196.1C1215.8 1200.2 1221.4 1204.2 1225.8 1209.4C1229.6 1214.0 1232.8 1219.3 1234.7 1224.9C1236.2 1229.9 1236.5 1235.3 1235.8 1240.4C1235.0 1245.9 1233.2 1251.3 1230.2 1255.9C1227.5 1260.1 1223.6 1263.7 1219.1 1265.9C1214.4 1268.3 1208.9 1269.4 1203.6 1269.2C1197.6 1269.0 1191.5 1267.2 1185.9 1264.8C1179.6 1262.0 1173.8 1257.8 1168.2 1253.7C1162.7 1249.7 1157.5 1245.2 1152.7 1240.4C1149.4 1237.1 1146.8 1233.1 1143.9 1229.4"/>
<path class="l"  d="M1169.3 1151.9 L1123.9 1210.5"/>
<path class="l"  d="M1168.7 1156.3 L1138.3 1216.1"/>
<circle class="l" cx="1131.0" cy="1215.0" r="7.4"/><circle class="l" cx="1131.0" cy="1215.0" r="3.6"/>
<path class="l"  d="M1127.3 1221.6 L1145.0 1238.2 L1146.1 1237.1 L1137.2 1220.1"/>
<path class="t"  d="M1132.8 1223.8 L1144.3 1236.0"/>
<rect class="l" x="1115.5" y="1219.4" width="7.3" height="31.0" rx="1.5"/>
<rect class="l" x="1107.3" y="1224.9" width="8.2" height="19.9"/>
<path class="l"  d="M1035.4 1210.5 L1106.2 1210.5"/>
<path class="l"  d="M1035.4 1224.9 L1106.2 1224.9"/>
<path class="l"  d="M1035.4 1242.6 L1106.2 1242.6"/>
<path class="l"  d="M1035.4 1257.0 L1106.2 1257.0"/>
<path class="l"  d="M1106.2 1205.0 L1106.2 1262.6"/>
<path class="l"  d="M1068.6 1208.3C1069.7 1205.7 1070.7 1203.1 1071.9 1200.6C1073.7 1196.8 1075.1 1192.9 1077.4 1189.5C1078.8 1187.5 1080.8 1185.8 1083.0 1184.6C1084.6 1183.7 1086.6 1183.5 1088.5 1183.5C1090.4 1183.6 1092.4 1184.1 1094.0 1185.1C1095.8 1186.1 1097.3 1187.8 1098.5 1189.5C1100.3 1192.3 1101.4 1195.4 1102.9 1198.4C1104.0 1200.6 1105.1 1202.8 1106.2 1205.0"/>
<path class="l"  d="M1068.6 1259.3C1069.7 1262.2 1070.8 1265.2 1071.9 1268.1C1073.4 1272.2 1074.1 1276.6 1076.3 1280.3C1077.7 1282.6 1080.0 1284.3 1082.3 1285.6C1084.2 1286.6 1086.4 1287.0 1088.5 1286.9C1090.7 1286.9 1092.9 1286.3 1094.7 1285.2C1096.6 1284.0 1098.0 1282.2 1099.1 1280.3C1100.8 1277.5 1101.7 1274.4 1102.9 1271.4C1104.1 1268.5 1105.1 1265.5 1106.2 1262.6"/>
<circle class="l" cx="1087.8" cy="1197.9" r="4.4"/>
<circle class="l" cx="1087.8" cy="1272.1" r="4.4"/>
<path class="t"  d="M1023.6 1090.0 L1023.6 1165.0"/>
<path class="l"  d="M1026.1 1095.0 L1026.1 1236.0"/>
<path class="l"  d="M1026.1 1236.0C1025.4 1240.7 1025.6 1245.5 1024.0 1250.0C1022.5 1254.4 1020.0 1258.4 1017.0 1262.0C1014.4 1265.1 1011.2 1267.6 1007.7 1269.5C1003.6 1271.8 998.8 1272.9 994.4 1274.6"/>
<path class="l"  d="M1034.4 1103.0 L1034.4 1236.0"/>
<path class="l"  d="M1034.4 1236.0C1033.6 1241.3 1033.8 1246.9 1032.0 1252.0C1030.2 1257.1 1027.6 1262.0 1024.0 1266.0C1021.0 1269.3 1016.9 1271.5 1012.7 1273.0C1008.5 1274.5 1003.8 1274.1 999.4 1274.6"/>
<path class="l"  d="M893.1 1274.6 L1000.0 1274.6"/>
<path class="l"  d="M910.5 1263.8 L994.4 1263.8"/>
<path class="l"  d="M994.4 1263.8C998.8 1262.4 1003.7 1262.1 1007.7 1259.7C1011.5 1257.4 1014.3 1253.5 1017.0 1250.0C1019.4 1246.9 1021.0 1243.3 1023.0 1240.0"/>
<path class="l"  d="M994.4 1263.8 L994.4 1274.6"/>
<circle class="l" cx="1007.5" cy="1235.3" r="14.6" style="fill:#fff;stroke-width:2"/><circle class="l" cx="1007.5" cy="1235.3" r="11.8" style="stroke-width:2"/>
<path class="l"  d="M1016.7 1235.3 L1012.1 1243.3 L1002.9 1243.3 L998.3 1235.3 L1002.9 1227.3 L1012.1 1227.3 L1016.7 1235.3"/>
<path class="l"  d="M1022.1 1087.0 L1054.7 1088.3 L1054.7 1094.5"/>
<path class="l"  d="M1022.1 1089.4 L1033.9 1106.0"/>
<path class="t"  d="M1024.5 1089.0 L1036.0 1104.5"/>
<path class="l"  d="M1052.6 1102.2C1048.0 1102.2 1043.3 1101.2 1038.8 1102.2C1037.0 1102.6 1035.1 1104.2 1034.6 1106.0C1033.6 1109.9 1034.6 1114.0 1034.6 1118.0"/>
<path class="l"  d="M1034.6 1118.0 L1034.6 1131.0"/>
<path class="l"  d="M1034.6 1131.0C1035.1 1132.0 1035.2 1133.2 1036.0 1134.0C1036.7 1134.7 1037.8 1134.9 1038.8 1135.0C1043.4 1135.3 1048.0 1135.0 1052.6 1135.0"/>
<path class="t"  d="M1039.4 1105.0 L1039.4 1134.0"/>
<path class="l"  d="M1049.8 1102.2 L1049.8 1135.0"/>
<path class="l"  d="M1040.8 1135.0 L1040.8 1150.6 L1054.7 1150.6 L1054.7 1144.5"/>
<rect x="1052.6" y="1094.2" width="8.4" height="50.5" rx="2.5" fill="#333" stroke="#1a1a1a" stroke-width="1.2"/>
<ellipse class="t" cx="1026.3" cy="1125.4" rx="5.5" ry="2.3"/>
<path class="l"  d="M1002.1 983.0 L1247.0 947.3 L1256.4 952.9 L1251.2 960.2 L1006.2 995.1"/>
<path class="t"  d="M1002.5 985.1 L1248.1 949.4"/>
<path class="t" style="fill:#bbb" d="M1149.9 952.3 L1171.3 949.0 L1172.3 954.4 L1151.5 958.1 L1149.9 952.3"/>
<path class="l" style="stroke-width:1.9;stroke:#151515" d="M1148.4 950.9 L1209.7 941.5 L1212.8 949.8 L1150.5 960.2 L1148.4 950.9"/>
<path class="l"  d="M1171.7 947.3 L1174.2 956.3"/>
<path class="l"  d="M1176.0 946.7 L1178.5 955.5"/>
<path class="l"  d="M1195.0 943.8 L1197.8 952.3"/>
<path class="l"  d="M1198.7 943.2 L1201.6 951.7"/>
<path class="t" style="fill:#bbb" d="M1154.0 975.2 L1175.4 971.8 L1176.5 977.2 L1155.7 981.0 L1154.0 975.2"/>
<path class="l" style="stroke-width:1.9;stroke:#151515" d="M1152.6 973.7 L1213.8 964.8 L1215.9 972.7 L1154.7 983.0 L1152.6 973.7"/>
<path class="l"  d="M1175.9 970.3 L1177.9 979.1"/>
<path class="l"  d="M1180.1 969.7 L1182.2 978.4"/>
<path class="l"  d="M1199.1 966.9 L1201.2 975.2"/>
<path class="l"  d="M1202.8 966.4 L1204.9 974.5"/>
</g>
</svg>
</body></html>
